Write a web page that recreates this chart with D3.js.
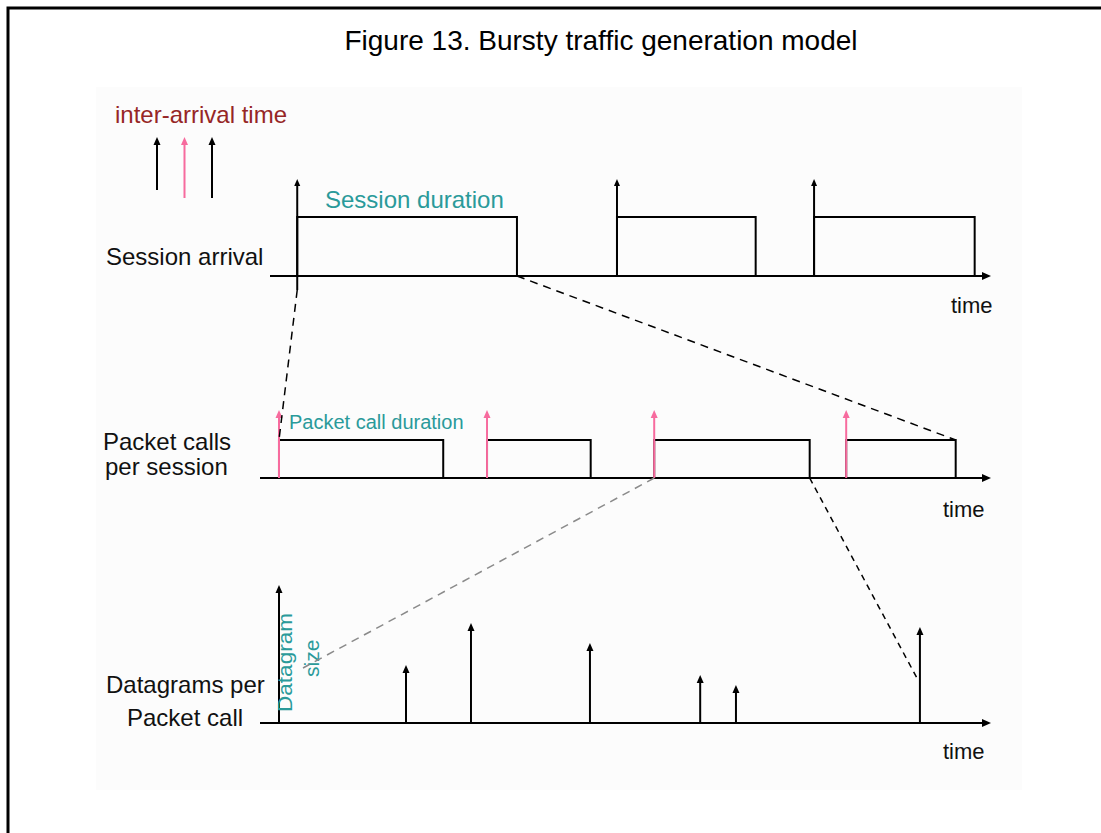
<!DOCTYPE html>
<html>
<head>
<meta charset="utf-8">
<script src="https://cdn.jsdelivr.net/npm/d3@7/dist/d3.min.js"></script>
<style>
  html, body { margin: 0; padding: 0; background: #ffffff; }
  svg { display: block; }
  text { font-family: "Liberation Sans", Arial, sans-serif; }
</style>
</head>
<body>
<svg id="chart" width="1101" height="833"></svg>
<script>
// ---------------- data ----------------
const titleText = "Figure 13. Bursty traffic generation model";
// time units 0..100 along each time axis
const sessionStart = [5.1, 48.9, 75.9];
const sessionEnd   = [35.2, 67.9, 97.9];
const sessionLevel = 59;      // session "on" level
const sessionArrow = 96;      // arrival marker height

const packetStart = [2.6, 31.1, 54.0, 80.3];
const packetEnd   = [25.1, 45.3, 75.3, 95.3];
const packetLevel = 38;
const packetArrow = 68;

const datagramTime = [20.0, 28.9, 45.2, 60.3, 65.2, 90.4];
const datagramSize = [58, 100, 80, 48, 38, 96];
const datagramAxisMax = 138;

const legendColors = ["#000000", "#f76b9e", "#000000"];
const rowLabels = [["Session arrival"], ["Packet calls", "per session"], ["Datagrams per", "Packet call"]];

// ---------------- styles ----------------
const BLACK = "#000000", PINK = "#f76b9e", TEAL = "#2a9a9a", DARKRED = "#962626", TXT = "#111111";

const svg = d3.select("#chart");

// background panel + frame
svg.append("rect").attr("x", 96).attr("y", 87).attr("width", 926).attr("height", 703).attr("fill", "#fcfcfc");
svg.append("path").attr("d", "M8,833 V8 H1101").attr("fill", "none").attr("stroke", BLACK).attr("stroke-width", 3);

svg.append("text").attr("x", 601).attr("y", 50).attr("text-anchor", "middle")
  .attr("font-size", 28).attr("fill", BLACK).text(titleText);

// scales
const x = d3.scaleLinear().domain([0, 100]).range([260, 990]);
const ySes = d3.scaleLinear().domain([0, 100]).range([276, 176]);
const yPkt = d3.scaleLinear().domain([0, 100]).range([478, 378]);
const yDg  = d3.scaleLinear().domain([0, datagramAxisMax]).range([723, 585]);

const g = svg.append("g");

function upHead(cx, tipY, color, w = 3.5, h = 8) {
  g.append("path").attr("d", `M${cx},${tipY} L${cx + w},${tipY + h} L${cx - w},${tipY + h} Z`).attr("fill", color);
}
function rightHead(tipX, cy, color) {
  g.append("path").attr("d", `M${tipX},${cy} L${tipX - 9},${cy - 4} L${tipX - 9},${cy + 4} Z`).attr("fill", color);
}
function line(x1, y1, x2, y2, color, w = 2, dash = null) {
  const l = g.append("line").attr("x1", x1).attr("y1", y1).attr("x2", x2).attr("y2", y2)
    .attr("stroke", color).attr("stroke-width", w);
  if (dash) l.attr("stroke-dasharray", dash);
  return l;
}

// ---------- legend ----------
g.append("text").attr("x", 115).attr("y", 123).attr("font-size", 24).attr("fill", DARKRED).text("inter-arrival time");
const legX = d3.scalePoint().domain(d3.range(legendColors.length)).range([157, 212]);
const legBottom = [190, 198, 198];
legendColors.forEach((c, i) => {
  line(legX(i), legBottom[i], legX(i), 143, c, 2);
  upHead(legX(i), 137, c, 3.5, 8);
});

// ---------- session row ----------
const sessAxisY = ySes(0);
line(270, sessAxisY, 984, sessAxisY, BLACK, 2);
rightHead(991, sessAxisY, BLACK);
sessionStart.forEach((s, i) => {
  const x0 = x(s), x1 = x(sessionEnd[i]);
  g.append("path")
    .attr("d", `M${x0},${sessAxisY} V${ySes(sessionLevel)} H${x1} V${sessAxisY}`)
    .attr("fill", "none").attr("stroke", BLACK).attr("stroke-width", 2);
  line(x0, i === 0 ? sessAxisY + 14 : sessAxisY, x0, ySes(sessionArrow) + 4, BLACK, 2);
  upHead(x0, ySes(sessionArrow) - 1, BLACK, 3, 7);
});
g.append("text").attr("x", 325).attr("y", 208).attr("font-size", 24).attr("fill", TEAL).text("Session duration");
g.append("text").attr("x", 106).attr("y", 265).attr("font-size", 24).attr("fill", TXT).text(rowLabels[0][0]);
g.append("text").attr("x", 951).attr("y", 313).attr("font-size", 22).attr("fill", TXT).text("time");

// ---------- packet call row ----------
const pktAxisY = yPkt(0);
line(260, pktAxisY, 983, pktAxisY, BLACK, 2);
rightHead(991, pktAxisY, BLACK);
packetStart.forEach((s, i) => {
  const x0 = x(s), x1 = x(packetEnd[i]);
  g.append("path")
    .attr("d", `M${x0},${pktAxisY} V${yPkt(packetLevel)} H${x1} V${pktAxisY}`)
    .attr("fill", "none").attr("stroke", BLACK).attr("stroke-width", 2);
});
packetStart.forEach((s) => {
  const x0 = x(s);
  line(x0, pktAxisY, x0, yPkt(packetArrow) + 5, PINK, 2);
  upHead(x0, yPkt(packetArrow), PINK, 3.5, 8);
});
g.append("text").attr("x", 289).attr("y", 429).attr("font-size", 20).attr("fill", TEAL).text("Packet call duration");
g.append("text").attr("x", 103).attr("y", 450).attr("font-size", 24).attr("fill", TXT).text(rowLabels[1][0]);
g.append("text").attr("x", 105).attr("y", 475).attr("font-size", 24).attr("fill", TXT).text(rowLabels[1][1]);
g.append("text").attr("x", 943).attr("y", 517).attr("font-size", 22).attr("fill", TXT).text("time");

// ---------- datagram row ----------
const dgAxisY = yDg(0);
line(260, dgAxisY, 983, dgAxisY, BLACK, 2);
rightHead(991, dgAxisY, BLACK);
const yAxX = x(packetStart[0]);
line(yAxX, dgAxisY, yAxX, yDg(datagramAxisMax) + 5, BLACK, 2);
upHead(yAxX, yDg(datagramAxisMax), BLACK, 3.5, 8);
datagramTime.forEach((t, i) => {
  const xx = x(t);
  line(xx, dgAxisY, xx, yDg(datagramSize[i]) + 5, BLACK, 2);
  upHead(xx, yDg(datagramSize[i]), BLACK, 3.5, 8);
});
g.append("text").attr("transform", "translate(292,712) rotate(-90)").attr("font-size", 21)
  .attr("fill", TEAL).attr("textLength", 99).attr("lengthAdjust", "spacingAndGlyphs").text("Datagram");
g.append("text").attr("transform", "translate(319,677) rotate(-90)").attr("font-size", 21)
  .attr("fill", TEAL).text("size");
g.append("text").attr("x", 106).attr("y", 693).attr("font-size", 24).attr("fill", TXT).text(rowLabels[2][0]);
g.append("text").attr("x", 127).attr("y", 726).attr("font-size", 24).attr("fill", TXT).text(rowLabels[2][1]);
g.append("text").attr("x", 943).attr("y", 759).attr("font-size", 22).attr("fill", TXT).text("time");

// ---------- zoom connectors (dashed) ----------
line(x(sessionStart[0]), sessAxisY + 14, x(packetStart[0]), yPkt(packetLevel), BLACK, 1.5, "8,6");
line(x(sessionEnd[0]), sessAxisY, x(packetEnd[3]), yPkt(packetLevel), BLACK, 1.5, "8,6");
line(x(packetStart[2]), pktAxisY, 303, 668, "#8a8a8a", 1.5, "8,6");
line(x(packetEnd[2]), pktAxisY, 918, 680, BLACK, 1.5, "6,5");
</script>
</body>
</html>
